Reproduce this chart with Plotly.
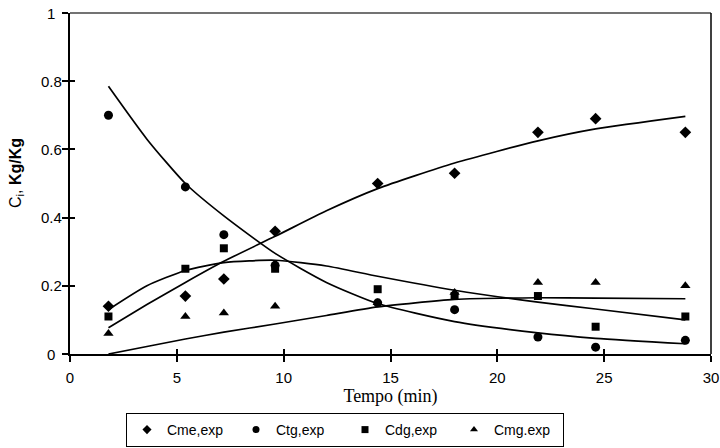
import plotly.graph_objects as go

# Experimental time points (min)
tempo = [1.8, 5.4, 7.2, 9.6, 14.4, 18.0, 21.9, 24.6, 28.8]

# Experimental concentrations (Kg/Kg)
cme_exp = [0.14, 0.17, 0.22, 0.36, 0.50, 0.53, 0.65, 0.69, 0.65]
ctg_exp = [0.70, 0.49, 0.35, 0.26, 0.15, 0.13, 0.05, 0.02, 0.04]
cdg_exp = [0.11, 0.25, 0.31, 0.25, 0.19, 0.17, 0.17, 0.08, 0.11]
cmg_exp = [0.06, 0.11, 0.12, 0.14, 0.15, 0.18, 0.21, 0.21, 0.20]

# Model curves
tempo_mod = [1.8, 3.6, 5.4, 7.2, 9.6, 12.0, 14.4, 18.0, 21.9, 24.6, 28.8]
cme_mod = [0.077, 0.145, 0.21, 0.272, 0.345, 0.42, 0.485, 0.56, 0.625, 0.66, 0.697]
ctg_mod = [0.785, 0.63, 0.50, 0.405, 0.295, 0.21, 0.148, 0.095, 0.062, 0.046, 0.03]
cdg_mod = [0.13, 0.20, 0.245, 0.268, 0.275, 0.258, 0.228, 0.187, 0.152, 0.132, 0.10]
cmg_mod = [0.0, 0.022, 0.044, 0.064, 0.088, 0.113, 0.138, 0.16, 0.165, 0.164, 0.162]

x_ticks = [0, 5, 10, 15, 20, 25, 30]
y_ticks = [0, 0.2, 0.4, 0.6, 0.8, 1]
y_tick_text = ["0", "0.2", "0.4", "0.6", "0.8", "1"]

names = ["Cme,exp", "Ctg,exp", "Cdg,exp", "Cmg.exp"]
symbols = ["diamond", "circle", "square", "triangle-up"]

fig = go.Figure()

for ys in [cme_mod, ctg_mod, cdg_mod, cmg_mod]:
    fig.add_trace(go.Scatter(x=tempo_mod, y=ys, mode="lines",
                             line=dict(color="black", width=1.7, shape="spline", smoothing=0.6),
                             showlegend=False, hoverinfo="skip"))

sizes = [9, 9, 8, 9]
for name, ys, sym, sz in zip(names, [cme_exp, ctg_exp, cdg_exp, cmg_exp], symbols, sizes):
    fig.add_trace(go.Scatter(x=tempo, y=ys, mode="markers", name=name, showlegend=False,
                             marker=dict(symbol=sym, size=sz, color="black")))

# legend entries with small glyphs
for name, sym in zip(names, symbols):
    fig.add_trace(go.Scatter(x=[None], y=[None], mode="markers", name=name,
                             marker=dict(symbol=sym, size=7, color="black")))

# overlay axes give ticks crossing the axis lines
fig.add_trace(go.Scatter(x=[None], y=[None], xaxis="x2", yaxis="y2",
                         showlegend=False, hoverinfo="skip"))

W = 720
H = 448
L, R, T, B = 70, 9, 13, 94
pw = W - L - R
ph = H - T - B


def px_x(p):
    return (p - L) / pw


def px_y(p):
    return (H - B - p) / ph


annotations = []
for v, t in zip(y_ticks, y_tick_text):
    annotations.append(dict(x=px_x(51), xref="paper", y=v, yref="y", text=t,
                            showarrow=False, xanchor="center", yanchor="middle",
                            font=dict(size=15)))
annotations.append(dict(x=px_x(16), xref="paper", y=px_y(173), yref="paper",
                        text="C<sub>i</sub>, <b>Kg/Kg</b>", textangle=-90,
                        showarrow=False, xanchor="center", yanchor="middle",
                        font=dict(size=16)))

fig.update_layout(
    width=W, height=H,
    margin=dict(l=L, r=R, t=T, b=B, autoexpand=False),
    plot_bgcolor="white", paper_bgcolor="white",
    font=dict(family="Liberation Sans, Arial", size=15, color="black"),
    showlegend=True,
    legend=dict(orientation="h", xref="container", yref="container",
                x=126 / W, xanchor="left", y=1 - 447 / H, yanchor="bottom",
                bordercolor="black", borderwidth=1, bgcolor="white",
                font=dict(size=14), entrywidth=64, entrywidthmode="pixels",
                itemsizing="trace", tracegroupgap=0),
    xaxis=dict(range=[0, 30], tickvals=x_ticks, showgrid=False, zeroline=False,
               showline=True, linecolor="black", linewidth=2, mirror=False,
               ticks="outside", ticklen=6, tickwidth=1.5, tickcolor="black",
               tickfont=dict(size=15), ticklabelstandoff=3, automargin=False,
               title=dict(text="Tempo (min)", standoff=4,
                          font=dict(family="Liberation Serif, Times New Roman", size=18))),
    yaxis=dict(range=[0, 1], tickvals=y_ticks, showticklabels=False, showgrid=False,
               zeroline=False, showline=True, linecolor="black", linewidth=2, mirror=False,
               ticks="outside", ticklen=6, tickwidth=1.5, tickcolor="black", automargin=False),
    xaxis2=dict(range=[0, 30], tickvals=x_ticks, overlaying="x", anchor="y", side="bottom",
                showticklabels=False, showgrid=False, zeroline=False, showline=False,
                ticks="inside", ticklen=5, tickwidth=1.5, tickcolor="black"),
    yaxis2=dict(range=[0, 1], tickvals=y_ticks, overlaying="y", anchor="x", side="left",
                showticklabels=False, showgrid=False, zeroline=False, showline=False,
                ticks="inside", ticklen=5, tickwidth=1.5, tickcolor="black"),
    annotations=annotations,
    shapes=[
        dict(type="line", xref="paper", yref="paper", x0=0, x1=1, y0=1, y1=1,
             line=dict(color="#444444", width=1.3)),
        dict(type="line", xref="paper", yref="paper", x0=1, x1=1, y0=0, y1=1,
             line=dict(color="black", width=1.5)),
    ],
)

fig.write_html("out.html", config={"displayModeBar": False},
               post_script="document.body.style.margin='0';document.body.style.overflow='hidden';")
